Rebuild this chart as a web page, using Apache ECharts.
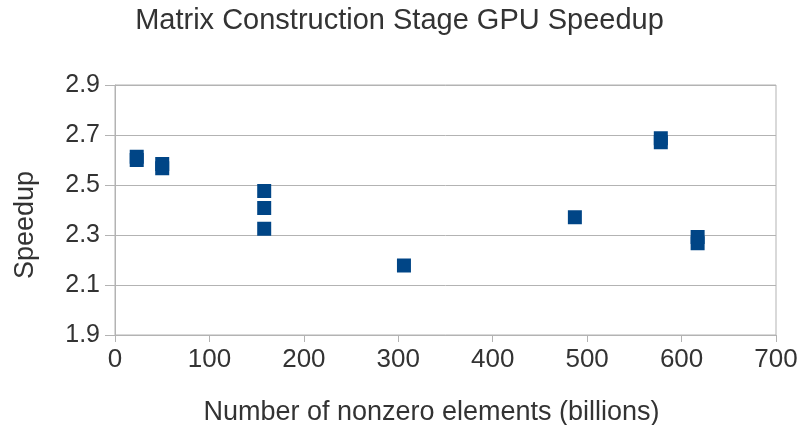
<!DOCTYPE html>
<html>
<head>
<meta charset="utf-8">
<script src="https://cdn.jsdelivr.net/npm/echarts@6/dist/echarts.min.js"></script>
<style>
  html, body { margin: 0; padding: 0; background: #fff; }
  #chart { width: 799px; height: 425px; }
</style>
</head>
<body>
<div id="chart"></div>
<script>
// nonzero elements (billions) vs speedup
const nnz = [23, 23, 50, 50, 158, 158, 158, 306, 487, 578, 578, 617, 617];
const speedup = [2.613, 2.600, 2.584, 2.567, 2.476, 2.408, 2.325, 2.178, 2.371, 2.687, 2.671, 2.292, 2.267];

const points = nnz.map((x, i) => [x, speedup[i]]);
const textColor = "#333333";
const lineColor = "#b3b3b3";
const font = "Liberation Sans, Arial, sans-serif";

let chart = echarts.init(document.getElementById("chart"));
chart.setOption({
  animation: false,
  title: {
    text: "Matrix Construction Stage GPU Speedup",
    left: "center",
    top: 1,
    padding: [5, 0, 5, 11],
    textStyle: { color: textColor, fontFamily: font, fontWeight: "normal", fontSize: 29 },
  },
  grid: {
    left: 115,
    right: 23,
    top: 85,
    bottom: 90,
    outerBoundsMode: "none",
    show: true,
    borderColor: lineColor,
    borderWidth: 1,
  },
  xAxis: {
    type: "value",
    min: 0,
    max: 700,
    interval: 100,
    name: "Number of nonzero elements (billions)",
    nameLocation: "middle",
    nameGap: 64,
    nameTextStyle: { color: textColor, fontFamily: font, fontSize: 27, padding: [0, 28, 0, 0] },
    axisLine: { show: true, lineStyle: { color: lineColor } },
    axisTick: { show: true, length: 7, lineStyle: { color: lineColor } },
    axisLabel: { color: textColor, fontFamily: font, fontSize: 26, margin: 12 },
    splitLine: { show: false },
  },
  yAxis: {
    type: "value",
    min: 1.9,
    max: 2.9,
    interval: 0.2,
    name: "Speedup",
    nameLocation: "middle",
    nameGap: 76,
    nameTextStyle: { color: textColor, fontFamily: font, fontSize: 27, padding: [0, 30, 0, 0] },
    axisLine: { show: true, lineStyle: { color: lineColor } },
    axisTick: { show: true, length: 10, lineStyle: { color: lineColor } },
    axisLabel: { color: textColor, fontFamily: font, fontSize: 25, margin: 15,
      formatter: (v) => v.toFixed(1) },
    splitLine: { show: true, lineStyle: { color: lineColor } },
  },
  series: [
    {
      type: "scatter",
      data: points,
      symbol: "rect",
      symbolSize: 14,
      itemStyle: { color: "#004586", opacity: 1 },
    },
  ],
});
</script>
</body>
</html>
